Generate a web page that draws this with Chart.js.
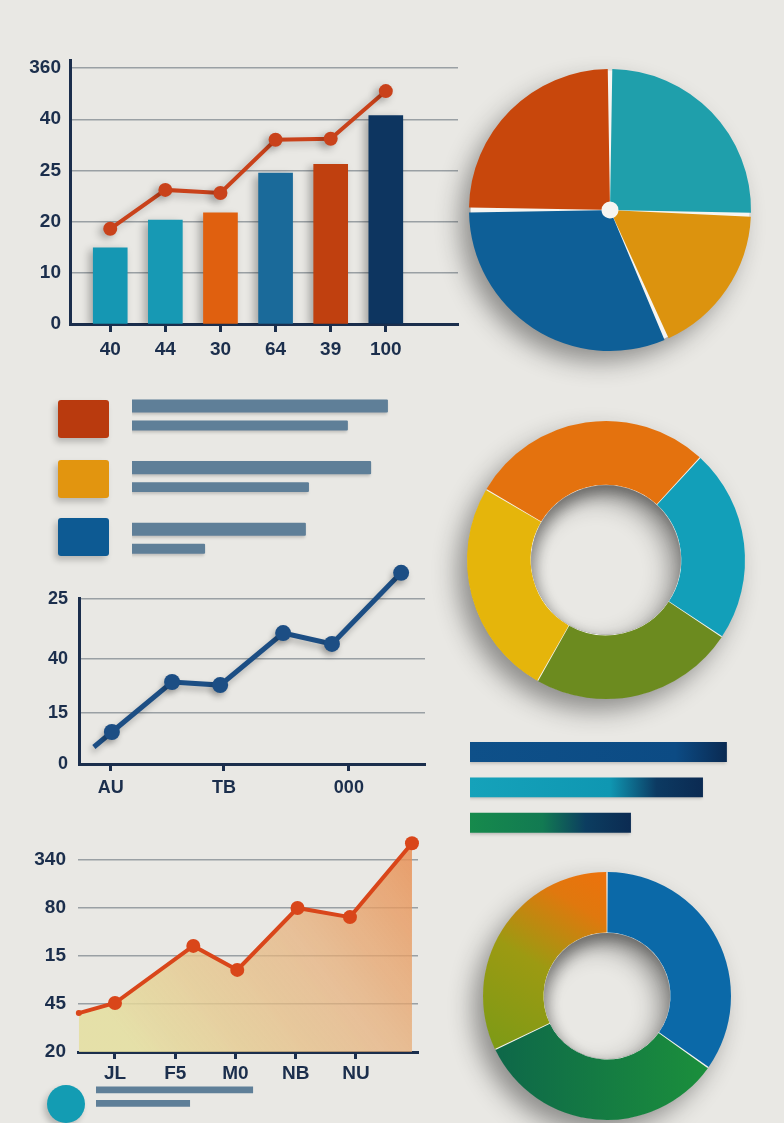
<!DOCTYPE html>
<html><head><meta charset="utf-8">
<script src="https://cdn.jsdelivr.net/npm/chart.js@4.4.1/dist/chart.umd.min.js"></script>
<style>
html,body{margin:0;padding:0;}
body{width:784px;height:1123px;background:#e9e8e4;position:relative;overflow:hidden;}
canvas{position:absolute;}
.sw{position:absolute;border-radius:3px;box-shadow:-3px 4px 6px rgba(0,0,0,0.22);}
</style></head><body>
<div class="sw" style="left:58px;top:400px;width:51px;height:38px;background:#b93a0e"></div>
<div class="sw" style="left:58px;top:460px;width:51px;height:38px;background:#e2950f"></div>
<div class="sw" style="left:58px;top:518px;width:51px;height:38px;background:#0d5a93"></div>
<div class="sw" style="left:47px;top:1085px;width:38px;height:38px;border-radius:50%;background:#139cb3"></div>
<script>
// ---------- DATA ----------
const barLabels = ['40', '44', '30', '64', '39', '100'];
const barValues = [14.9, 20.3, 21.7, 29.5, 31.2, 40.7];
const lineOverBars = [18.6, 26.2, 25.6, 36.0, 36.2, 45.5];
const barYTickLabels = ['0', '10', '20', '25', '40', '360'];
const barYTickValues = [0, 10, 20, 30, 40, 50];

const pieValues = [25.6, 17.8, 31.7, 25.0];          // teal, yellow, blue, orange

const legendRows = ['row1', 'row2', 'row3'];
const legendLong = [91.4, 85.4, 62.1];
const legendShort = [77.1, 63.2, 26.1];

const blueX = [4.3, 9.5, 26.9, 40.8, 59.0, 73.1, 93.1];
const blueY = [5.0, 9.4, 24.1, 23.2, 38.5, 35.3, 56.2];
const blueXTickLabels = ['AU', 'TB', '000'];
const blueXTickValues = [9.2, 41.9, 78.0];
const blueYTickLabels = ['0', '15', '40', '25'];
const blueYTickValues = [0, 15, 30.9, 48.5];

const ringValues = [22.5, 23.9, 25.3, 28.4];          // teal, green, yellow, orange
const gradBarRows = ['g1', 'g2', 'g3'];
const gradBarValues = [98.8, 89.6, 61.9];

const areaX = [-0.6, 0, 1.3, 2.03, 3.03, 3.9, 4.93];
const areaY = [0.81, 1.02, 2.21, 1.71, 3.0, 2.81, 4.35];
const areaXTickLabels = ['JL', 'F5', 'M0', 'NB', 'NU'];
const areaXTickValues = [0, 1, 2, 3, 4];
const areaYTickLabels = ['20', '45', '15', '80', '340'];
const areaYTickValues = [0, 1, 2, 3, 4];

const ring2Values = [34.8, 33.1, 32.1];               // blue, green, olive-orange
const footRows = ['f1', 'f2'];
const footBars = [95.2, 57.0];

// ---------- STYLE ----------
const NAVY = '#1b2e4c';
const GRID = '#9aa0a4';
const barColors = ['#1597b3', '#1799b4', '#e0600f', '#1a6a9a', '#c0400f', '#0d3560'];
const pieColors = ['#1f9fab', '#dc930e', '#0e5f97', '#c8470c'];
const ringColors = ['#129fb9', '#6c8b1f', '#e5b50b', '#e4720e'];
const gradStops = [
  [[0, '#0e5089'], [0.8, '#0c4b84'], [1, '#0a2a52']],
  [[0, '#15a2ba'], [0.6, '#0f97b2'], [0.8, '#0c3a62'], [1, '#0b2a52']],
  [[0, '#168a4c'], [0.45, '#127a52'], [0.72, '#0c3d60'], [1, '#0b2b52']]
];
const FAM = '"Liberation Sans", Arial, sans-serif';
const tickFont = {family: FAM, size: 19, weight: 'bold'};
const tickFontS = {family: FAM, size: 18, weight: 'bold'};

Chart.defaults.animation = false;
Chart.defaults.responsive = false;
Chart.defaults.plugins.legend.display = false;
Chart.defaults.plugins.tooltip.enabled = false;
Chart.defaults.font.family = FAM;

function mk(left, top, w, h) {
  const c = document.createElement('canvas');
  c.width = w; c.height = h;
  c.style.left = left + 'px'; c.style.top = top + 'px';
  c.style.width = w + 'px'; c.style.height = h + 'px';
  document.body.appendChild(c);
  return c;
}
function fixedTicks(values) {
  return s => { s.ticks = values.map(v => ({value: v})); };
}

const markShadow = {
  id: 'markShadow',
  beforeDatasetDraw(chart, args, o) {
    const ctx = chart.ctx; ctx.save();
    ctx.shadowColor = o.color || 'rgba(0,0,0,0.25)';
    ctx.shadowBlur = o.blur || 6; ctx.shadowOffsetX = o.dx || 0; ctx.shadowOffsetY = o.dy || 0;
  },
  afterDatasetDraw(chart, args, o) {
    const ctx = chart.ctx;
    if (o.outsidePoints && args.meta.type === 'line') {
      const a = chart.chartArea;
      const big = {left: -1e4, top: -1e4, right: 1e4, bottom: 1e4};
      args.meta.data.forEach(el => {
        if (el.x < a.left || el.x > a.right || el.y < a.top || el.y > a.bottom) el.draw(ctx, big);
      });
    }
    ctx.restore();
  }
};
const ringShadow = {
  id: 'ringShadow',
  beforeDatasetsDraw(chart, args, o) {
    const arc = chart.getDatasetMeta(0).data[0];
    if (!arc) return;
    const p = arc.getProps(['x', 'y', 'outerRadius', 'innerRadius'], true);
    const ctx = chart.ctx; ctx.save();
    ctx.shadowColor = o.color; ctx.shadowBlur = o.blur; ctx.shadowOffsetX = o.dx; ctx.shadowOffsetY = o.dy;
    ctx.beginPath();
    ctx.arc(p.x, p.y, p.outerRadius, 0, Math.PI * 2, false);
    if (o.hole) ctx.arc(p.x, p.y, p.innerRadius, 0, Math.PI * 2, true);
    ctx.fillStyle = o.fill; ctx.fill();
    ctx.restore();
  },
  afterDatasetsDraw(chart, args, o) {
    if (!o.hole) return;
    const arc = chart.getDatasetMeta(0).data[0];
    if (!arc) return;
    const p = arc.getProps(['x', 'y', 'outerRadius', 'innerRadius'], true);
    const ctx = chart.ctx; ctx.save();
    ctx.beginPath(); ctx.arc(p.x, p.y, p.innerRadius, 0, Math.PI * 2); ctx.clip();
    ctx.shadowColor = 'rgba(0,0,0,0.32)'; ctx.shadowBlur = 14; ctx.shadowOffsetX = 4; ctx.shadowOffsetY = 7;
    ctx.beginPath();
    ctx.arc(p.x, p.y, p.innerRadius + 40, 0, Math.PI * 2, false);
    ctx.arc(p.x, p.y, p.innerRadius, 0, Math.PI * 2, true);
    ctx.fillStyle = '#555'; ctx.fill();
    ctx.restore();
  }
};

// ---------- 1. bar + line ----------
new Chart(mk(0, 40, 470, 340), {
  type: 'bar',
  plugins: [markShadow],
  data: {
    datasets: [
      {type: 'line', data: lineOverBars.map((v, i) => ({x: i, y: v})), borderColor: '#c9421b',
       backgroundColor: '#c9421b', borderWidth: 4, pointRadius: 7, pointBorderWidth: 0, order: 0},
      {type: 'bar', data: barValues.map((v, i) => ({x: i, y: v})), backgroundColor: barColors,
       barThickness: 34, borderWidth: 0, order: 1}
    ]
  },
  options: {
    layout: {padding: {left: 0, right: 12, top: 18, bottom: 0}},
    plugins: {markShadow: {color: 'rgba(0,0,0,0.28)', blur: 8, dx: -4, dy: 3}},
    scales: {
      x: {type: 'linear', min: -0.73, max: 6.31, offset: false,
          afterFit: s => { s.height = 56; }, afterBuildTicks: fixedTicks(barLabels.map((_, i) => i)),
          ticks: {callback: (v, i) => barLabels[i], padding: 6, color: NAVY, font: tickFont, autoSkip: false, maxRotation: 0},
          grid: {drawOnChartArea: false, drawTicks: true, tickLength: 8, tickColor: NAVY, tickWidth: 3, offset: false},
          border: {color: NAVY, width: 3}},
      y: {min: 0, max: 51.5, afterFit: s => { s.width = 70; }, afterBuildTicks: fixedTicks(barYTickValues),
          ticks: {callback: (v, i) => barYTickLabels[i], padding: 9, color: NAVY, font: tickFont, autoSkip: false},
          grid: {color: GRID, lineWidth: 1.4, drawTicks: false},
          border: {color: NAVY, width: 3}}
    }
  }
});

// ---------- 2. pie ----------
new Chart(mk(430, 30, 360, 360), {
  type: 'doughnut',
  plugins: [ringShadow],
  data: {labels: ['a', 'b', 'c', 'd'], datasets: [{data: pieValues, backgroundColor: pieColors, borderWidth: 0, spacing: 3}]},
  options: {
    cutout: '5%', rotation: 0,
    layout: {padding: 39},
    plugins: {ringShadow: {color: 'rgba(30,30,30,0.45)', blur: 24, dx: -10, dy: 12, fill: '#f6f5f1', hole: false}}
  }
});

// ---------- 3. legend bars ----------
new Chart(mk(120, 380, 300, 195), {
  type: 'bar',
  plugins: [markShadow],
  data: {labels: legendRows, datasets: [
    {data: legendLong, backgroundColor: '#5f7f98', categoryPercentage: 0.634, barPercentage: 0.67, borderRadius: 1},
    {data: legendShort, backgroundColor: '#5f7f98', categoryPercentage: 0.634, barPercentage: 0.51, borderRadius: 1}
  ]},
  options: {
    indexAxis: 'y',
    layout: {padding: {left: 12, right: 8, top: 5, bottom: 5.25}},
    plugins: {markShadow: {color: 'rgba(0,0,0,0.18)', blur: 3, dx: -1, dy: 2}},
    scales: {x: {display: false, min: 0, max: 100}, y: {display: false}}
  }
});

// ---------- 4. blue line ----------
new Chart(mk(0, 550, 450, 260), {
  type: 'line',
  plugins: [markShadow],
  data: {datasets: [{data: blueX.map((x, i) => ({x: x, y: blueY[i]})), borderColor: '#1c4e84', backgroundColor: '#1c4e84',
    borderWidth: 5, pointRadius: c => c.dataIndex === 0 ? 0 : 8, pointBorderWidth: 0, clip: false}]},
  options: {
    layout: {padding: {left: 0, right: 25, top: 48, bottom: 0}},
    plugins: {markShadow: {color: 'rgba(0,0,0,0.25)', blur: 6, dx: -2, dy: 4, outsidePoints: true}},
    scales: {
      x: {type: 'linear', min: 0, max: 100, afterFit: s => { s.height = 46; }, afterBuildTicks: fixedTicks(blueXTickValues),
          ticks: {callback: (v, i) => blueXTickLabels[i], padding: 6, color: NAVY, font: tickFontS, autoSkip: false, maxRotation: 0},
          grid: {drawOnChartArea: false, drawTicks: true, tickLength: 7, tickColor: NAVY, tickWidth: 3},
          border: {color: NAVY, width: 3}},
      y: {min: 0, max: 48.8, afterFit: s => { s.width = 79; }, afterBuildTicks: fixedTicks(blueYTickValues),
          ticks: {callback: (v, i) => blueYTickLabels[i], padding: 11, color: NAVY, font: tickFontS, autoSkip: false},
          grid: {color: GRID, lineWidth: 1.4, drawTicks: false},
          border: {color: NAVY, width: 3}}
    }
  }
});

// ---------- 5. donut 1 ----------
new Chart(mk(430, 384, 352, 352), {
  type: 'doughnut',
  plugins: [ringShadow],
  data: {labels: ['a', 'b', 'c', 'd'], datasets: [{data: ringValues, backgroundColor: ringColors, borderWidth: 0, spacing: 1}]},
  options: {
    cutout: '54%', rotation: 42.6,
    layout: {padding: 37},
    plugins: {ringShadow: {color: 'rgba(30,30,30,0.45)', blur: 24, dx: -10, dy: 12, fill: '#f4f3ee', hole: true}}
  }
});

// ---------- 6. gradient bars ----------
new Chart(mk(460, 734, 280, 108), {
  type: 'bar',
  plugins: [markShadow],
  data: {labels: gradBarRows, datasets: [{data: gradBarValues, categoryPercentage: 1, barPercentage: 0.563,
    backgroundColor: c => {
      const ch = c.chart;
      if (!ch.chartArea) return gradStops[c.dataIndex][0][1];
      const xs = ch.scales.x;
      const g = ch.ctx.createLinearGradient(xs.getPixelForValue(0), 0, xs.getPixelForValue(gradBarValues[c.dataIndex]), 0);
      gradStops[c.dataIndex].forEach(s => g.addColorStop(s[0], s[1]));
      return g;
    }}]},
  options: {
    indexAxis: 'y',
    layout: {padding: {left: 10, right: 10, top: 0.25, bottom: 1.5}},
    plugins: {markShadow: {color: 'rgba(0,0,0,0.2)', blur: 3, dx: -1, dy: 2}},
    scales: {x: {display: false, min: 0, max: 100}, y: {display: false}}
  }
});

// ---------- 7. orange area ----------
new Chart(mk(0, 800, 450, 300), {
  type: 'line',
  data: {datasets: [{data: areaX.map((x, i) => ({x: x, y: areaY[i]})), borderColor: '#d9461a', pointBackgroundColor: '#d9461a',
    borderWidth: 4, pointRadius: c => c.dataIndex === 0 ? 3 : 7, pointBorderWidth: 0, clip: false, fill: 'origin',
    backgroundColor: c => {
      const ch = c.chart, ca = ch.chartArea;
      if (!ca) return 'rgba(230,170,120,0.6)';
      const g = ch.ctx.createLinearGradient(ca.right, ca.top, ca.left + 60, ca.bottom);
      g.addColorStop(0, 'rgba(232,140,80,0.85)');
      g.addColorStop(0.45, 'rgba(230,175,120,0.7)');
      g.addColorStop(1, 'rgba(228,222,158,0.85)');
      return g;
    }}]},
  options: {
    layout: {padding: {left: 0, right: 32, top: 36, bottom: 0}},
    scales: {
      x: {type: 'linear', min: -0.614, max: 5.03, afterFit: s => { s.height = 48; }, afterBuildTicks: fixedTicks(areaXTickValues),
          ticks: {callback: (v, i) => areaXTickLabels[i], padding: 3, color: NAVY, font: tickFont, autoSkip: false, maxRotation: 0},
          grid: {drawOnChartArea: false, drawTicks: true, tickLength: 7, tickColor: NAVY, tickWidth: 3},
          border: {color: NAVY, width: 3}},
      y: {min: 0, max: 4.5, afterFit: s => { s.width = 78; }, afterBuildTicks: fixedTicks(areaYTickValues),
          ticks: {callback: (v, i) => areaYTickLabels[i], padding: 12, color: NAVY, font: tickFont, autoSkip: false},
          grid: {color: GRID, lineWidth: 1.4, drawTicks: false},
          border: {display: false}}
    }
  }
});

// ---------- 8. donut 2 ----------
new Chart(mk(447, 836, 320, 320), {
  type: 'doughnut',
  plugins: [ringShadow],
  data: {labels: ['a', 'b', 'c'], datasets: [{data: ring2Values, borderWidth: 0, spacing: 1,
    backgroundColor: c => {
      const ch = c.chart, ca = ch.chartArea;
      const flat = ['#0b69a8', '#168a40', '#a99a12'];
      if (!ca) return flat[c.dataIndex];
      const cx = (ca.left + ca.right) / 2, cy = (ca.top + ca.bottom) / 2, r = Math.min(ca.width, ca.height) / 2;
      if (c.dataIndex === 1) {
        const g = ch.ctx.createLinearGradient(cx - r, cy, cx + r * 0.8, cy);
        g.addColorStop(0, '#0d654a'); g.addColorStop(1, '#1b8f3c'); return g;
      }
      if (c.dataIndex === 2) {
        const g = ch.ctx.createLinearGradient(cx - r * 0.9, cy + r * 0.4, cx - r * 0.05, cy - r);
        g.addColorStop(0, '#7e9a16'); g.addColorStop(0.45, '#9c9a12'); g.addColorStop(0.8, '#e0780e'); g.addColorStop(1, '#ec720c'); return g;
      }
      return flat[0];
    }}]},
  options: {
    cutout: '51%', rotation: 0,
    layout: {padding: 36},
    plugins: {ringShadow: {color: 'rgba(30,30,30,0.45)', blur: 24, dx: -10, dy: 12, fill: '#f4f3ee', hole: true}}
  }
});

// ---------- 9. footer bars ----------
new Chart(mk(90, 1080, 180, 35), {
  type: 'bar',
  data: {labels: footRows, datasets: [{data: footBars, backgroundColor: '#5f7f98', categoryPercentage: 1, barPercentage: 0.5}]},
  options: {
    indexAxis: 'y',
    layout: {padding: {left: 6, right: 9, top: 3, bottom: 5}},
    scales: {x: {display: false, min: 0, max: 100}, y: {display: false}}
  }
});
</script>
</body></html>
